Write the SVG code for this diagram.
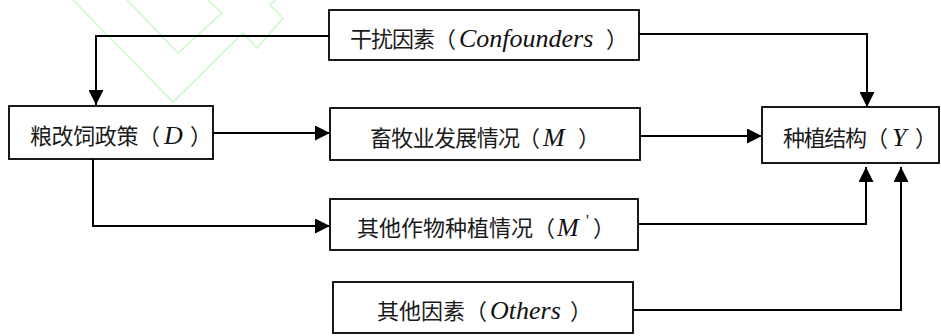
<svg xmlns="http://www.w3.org/2000/svg" width="941" height="336" viewBox="0 0 941 336">
<style>
.box{fill:#fff;stroke:#000;stroke-width:1.8}
.cn{font-family:"Noto Sans CJK SC","Noto Sans",sans-serif;font-size:22px;fill:#1a1a1a}
.la{font-family:"Liberation Serif","Times New Roman",serif;font-style:italic;font-size:26px;fill:#111}
.conn{fill:none;stroke:#000;stroke-width:2}
.wm{fill:none;stroke:#ccfacc;stroke-width:1.6}
</style>
<defs>
<marker id="ah" markerUnits="userSpaceOnUse" markerWidth="15" markerHeight="15" refX="15" refY="7.5" orient="auto">
<path d="M0,0 L15,7.5 L0,15 z" fill="#000"/>
</marker>
</defs>
<rect width="941" height="336" fill="#fff"/>
<g id="watermark">
<polyline class="wm" points="73,0 173,102 243,33 257,48 283,18 270,5 275,0"/>
<polyline class="wm" points="127,0 178,53 222,13 208,0"/>
</g>
<g id="connectors">
<path class="conn" d="M329,36 H96 V105" marker-end="url(#ah)"/>
<path class="conn" d="M639,34 H867 V107" marker-end="url(#ah)"/>
<path class="conn" d="M213,133 H330" marker-end="url(#ah)"/>
<path class="conn" d="M641,136 H762" marker-end="url(#ah)"/>
<path class="conn" d="M93,159 V226 H330" marker-end="url(#ah)"/>
<path class="conn" d="M638,224 H866 V167" marker-end="url(#ah)"/>
<path class="conn" d="M633,310 H901 V167" marker-end="url(#ah)"/>
</g>
<g id="confounders">
<rect class="box" x="329" y="10" width="310" height="50"/>
<text class="cn" x="350" y="47" textLength="106" lengthAdjust="spacing">干扰因素（</text>
<text class="la" x="459" y="47">Confounders</text>
<text class="cn" x="606" y="47">）</text>
</g>
<g id="policy">
<rect class="box" x="9" y="106" width="204" height="53"/>
<text class="cn" x="30" y="144" textLength="130" lengthAdjust="spacing">粮改饲政策（</text>
<text class="la" x="164" y="144">D</text>
<text class="cn" x="190" y="144">）</text>
</g>
<g id="livestock">
<rect class="box" x="330" y="108" width="310" height="52"/>
<text class="cn" x="370" y="146" textLength="150" lengthAdjust="spacing">畜牧业发展情况</text>
<text class="cn" x="518" y="146">（</text>
<text class="la" x="543" y="146">M</text>
<text class="cn" x="578" y="146">）</text>
</g>
<g id="structure">
<rect class="box" x="762" y="107" width="177" height="56"/>
<text class="cn" x="783" y="146" textLength="84" lengthAdjust="spacing">种植结构</text>
<text class="cn" x="866" y="146">（</text>
<text class="la" x="892" y="146">Y</text>
<text class="cn" x="915" y="146">）</text>
</g>
<g id="othercrops">
<rect class="box" x="330" y="199" width="308" height="51"/>
<text class="cn" x="357" y="236">其他作物种植情况（</text>
<text class="la" x="557" y="236">M</text>
<text class="la" x="586" y="226" style="font-size:16px;font-style:normal">'</text>
<text class="cn" x="593" y="236">）</text>
</g>
<g id="others">
<rect class="box" x="333" y="282" width="300" height="51"/>
<text class="cn" x="377" y="319">其他因素（</text>
<text class="la" x="490" y="319">Others</text>
<text class="cn" x="570" y="319">）</text>
</g>
</svg>
